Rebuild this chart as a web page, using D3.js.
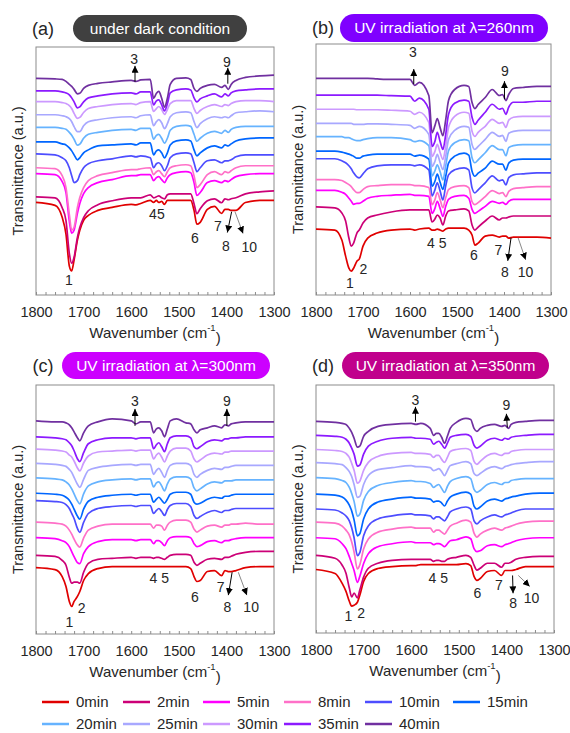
<!DOCTYPE html>
<html>
<head>
<meta charset="utf-8">
<script src="https://cdn.jsdelivr.net/npm/d3@7"></script>
<style>
  body { margin: 0; background: #fff; }
  text { font-family: "Liberation Sans", Arial, sans-serif; fill: #262626; }
</style>
</head>
<body>
<svg id="fig" width="570" height="733"></svg>
<script>
// sampling points of every trace (cm-1)
var wavenumbers = [1800, 1760, 1745, 1737, 1730, 1725, 1720, 1713, 1708, 1700,
                   1690, 1670, 1640, 1600, 1590, 1580, 1560, 1553, 1547, 1542,
                   1536, 1530, 1524, 1518, 1505, 1485, 1475, 1468, 1462, 1455,
                   1440, 1425, 1410, 1403, 1396, 1390, 1380, 1360, 1330, 1300];

var times = ["0min", "2min", "5min", "8min", "10min", "15min", "20min", "25min", "30min", "35min", "40min"];
var colors = ["#e00000", "#cc0077", "#ff00ff", "#ff70c8", "#4d4dff", "#0066ff",
              "#66b3ff", "#a8a8ff", "#cc99ff", "#8c1aff", "#7030a0"];

var xTicks = [1800, 1700, 1600, 1500, 1400, 1300];

// vertical offset of each trace (a.u.), 0min first
var offsetsA = [93.3, 99, 122.3, 128.3, 142.3, 154.3, 169, 181.7, 195, 205.7, 218.3];
var offsetsB = [65.7, 87.7, 104.3, 115, 135.7, 143.3, 157.7, 171, 185, 199, 215.7];
var offsetsC = [66.7, 79, 96.7, 112.3, 134, 141.3, 156.7, 171.3, 185.7, 198, 214];
var offsetsD = [64, 78.3, 96, 111.7, 125, 140, 156.7, 171.7, 185, 199.3, 213.3];

// drop of transmittance below each trace's baseline (a.u.)
var dipsA = [
  [0,3,15,32,64,69,58,38,28,18, 13,8,5,2,2.5,1,-2,0,-2,0, -1,2,-2,-2,-2,-2,-2,8,22,20, 7,4,11,7,7,8,8,0,-2,-2],
  [0,1,11,24,57,67,61,41,31,21, 14,8,4,1,1,1,-2,1,0,-1, 1,2,-2,-3,-3,-3,-3,7,17,12, 4,2,6,2,3,2,1,-3,-5,-6],
  [0,1,8,19,48,60,57,40,30,20, 14,9,6,2,2,1,1,7,4,3, 6,9,4,1,-1,-2,-1,9,22,19, 9,7,9,7,8,6,3,1,0,0],
  [0,1,8,20,47,63,60,40,30,20, 13,8,5,2,2,1,0,7,4,3, 6,9,4,0,-2,-3,-2,8,20,17, 7,4,7,4,5,3,0,-2,-2,-2],
  [0,1,4,7,14,22,29,27,21,14, 10,7,5,2,3,2,4,14,10,9, 12,17,12,4,0,-1,0,9,18,14, 7,6,9,7,7,6,3,1,1,1],
  [0,0,2,3,6,9,13,18,16,11, 8,4,3,2,3,1,1,13,9,8, 11,16,11,3,-1,-2,-1,8,14,11, 6,4,6,3,4,2,-1,-3,-4,-4],
  [0,0,1,2,5,8,12,18,17,11, 7,5,3,2,3,1,1,12,8,7, 11,16,11,3,-1,-2,-1,7,14,11, 6,4,6,3,5,2,0,-1,-1,-1],
  [0,0,1,2,4,7,12,17,17,11, 7,5,3,2,3,1,0,11,7,5, 8,14,9,2,-2,-3,-2,7,13,9, 4,2,3,2,3,1,-2,-3,-4,-3],
  [0,0,1,2,4,7,12,17,16,11, 7,5,3,2,3,1,0,10,7,5, 8,13,8,2,-1,-1,-1,7,12,9, 5,3,5,3,4,2,0,-1,-1,0],
  [0,0,1,2,4,7,11,17,16,11, 7,5,3,2,3,1,1,14,10,9, 14,20,13,2,-1,-2,-1,7,11,8, 5,3,6,3,5,2,0,-1,-2,-2],
  [0,0.5,1,3,6,8,11,15.5,15,10, 7,5,3.5,2,3,1.5,1,20,15,13, 20,29,20,6,0,-0.5,1,10,13,10, 7,6,9,7,11,6,2,-1,-2.5,-3.3]
];

var dipsB = [
  [0,1,11,27,39,42,39,32,30,17, 9,4,1,0,1,0,-1,1,1,0, 1,2,0,-1,-1,-1,1,6,16,14, 7,6,8,7,7,9,8,8,8,9],
  [0,1,6,14,31,39,36,26,23,16, 11,8,5,3,3,3,3,15,12,8, 11,18,9,4,3,2,4,18,23,20, 14,9,13,11,11,10,9,9,9,9],
  [0,0,2,4,8,11,14,13,13,11, 8,6,5,4,5,5,6,23,18,11, 18,26,16,9,6,5,8,19,23,21, 16,11,13,12,14,11,9,9,9,9],
  [0,0,1,3,5,7,10,13,13,10, 7,6,5,5,6,6,8,25,20,13, 20,28,18,10,7,6,8,22,25,23, 17,11,14,13,17,12,9,8,7,7],
  [0,0,2,4,7,10,14,18,19,15, 10,7,6,6,7,6,11,37,31,24, 32,41,27,16,11,9,11,29,34,31, 24,17,22,21,26,19,16,15,14,14],
  [0,0,1,2,3,4,5,7,7,5, 4,3,3,3,5,4,8,35,30,23, 31,38,25,12,5,2,4,20,25,22, 17,10,13,13,19,12,9,8,8,8],
  [0,0,0,1,1,2,3,4,4,3, 2,1,1,3,5,4,9,39,34,28, 35,43,29,14,6,3,4,21,26,23, 16,9,13,13,19,11,9,8,8,8],
  [0,0,0,0,0,0,1,1,1,1, 0.5,0.5,1,2,5,3,11,43,38,31, 39,46,33,16,7,3,4,21,26,23, 16,9,13,12,18,10,8,7,7,7],
  [0,0,0,0,0,0,0,0.5,0.5,0.5, 0.5,0.5,1,2,5,3,13,47,42,35, 43,50,37,18,7,3,4,22,27,23, 17,10,14,13,18,11,8,7,7,7],
  [0,0,0,0,0,0,0,0,0,0, 0,0,0.5,1,6,3,14,51,46,37, 46,54,39,19,8,5,6,22,29,25, 17,9,14,13,19,12,7,7,6,6],
  [0,0,0,0,0,0,0,0,0,0, 0,0.5,1,1,7,4,17,54,47,40, 49,57,41,22,11,7,8,24,30,26, 19,11,17,16,22,16,10,9,8,8]
];

var dipsC = [
  [0,2,9,19,34,39,34,29,24,13, 6,1,-1,-1,-1,-1,-1,-1,-1,-1, -1,-1,-1,-1,-1,-1,1,9,14,13, 4,3,8,3,4,4,3,0,-1,-1],
  [0,1,5,10,22,28,27,27,28,17, 8,4,3,2,3,2,2,3,2,2, 3,4,2,0,-1,-1,0,7,10,8, 4,3,4,2,2,1,-1,-3,-4,-4],
  [0,1,3,5,9,14,19,25,26,16, 9,4,2,2,3,2,2,6,3,3, 5,8,3,0,-1,-1,0,6,9,8, 4,3,5,3,3,2,1,0,0,0],
  [0,1,2,4,8,12,17,23,25,16, 8,4,2,2,2,2,2,6,3,3, 4,8,3,0,-2,-2,0,7,10,8, 4,3,5,3,3,2,2,1,2,2],
  [0,1,2,4,8,13,18,28,32,22, 13,8,6,5,6,5,5,13,10,8, 11,15,9,5,3,3,6,15,18,16, 12,10,12,10,10,9,8,8,8,8],
  [0,1,2,4,7,11,16,23,26,16, 8,4,2,1,2,1,1,9,6,4, 7,10,6,1,-1,-1,1,9,11,10, 6,4,5,3,3,2,1,1,1,1],
  [0,1,2,4,7,11,16,23,26,16, 8,4,2,1,2,1,1,9,5,4, 8,13,6,1,-1,-1,1,10,13,11, 6,4,5,3,3,3,2,2,2,2],
  [0,1,2,3,6,9,14,21,24,16, 7,4,2,1,2,1,1,11,7,5, 9,14,7,2,0,0,2,11,14,11, 7,5,6,4,4,3,2,2,2,2],
  [0,1,2,3,6,8,12,19,22,14, 7,3,2,1,2,1,1,10,6,4, 8,13,7,2,-1,-1,2,10,13,11, 6,4,5,3,3,2,2,2,2,2],
  [0,1,2,3,6,9,14,22,25,16, 7,3,1,1,2,1,1,12,8,6, 10,15,7,1,-1,-1,1,10,12,10, 5,3,4,2,2,1,1,0,0,0],
  [0,1,1,2,4,7,11,17,20,12, 5,1,-2,0,3,1,1,12,8,7, 10,16,8,0,-2,2,3,9,12,9, 7,5,7,4,5,3,2,1,1,1]
];

var dipsD = [
  [0,4,14,22,32,37,36,33,26,12, 4,-1,-3,-4,-4,-5,-5,-5,-5,-5, -5,-5,-5,-5,-5,-6,-4,7,11,9, 2,1,6,1,1,1,0,-3,-3,-3],
  [0,3,10,18,33,42,38,43,35,22, 13,8,5,4,4,4,4,6,5,5, 6,6,4,3,2,0,2,10,15,13, 8,8,12,8,8,7,4,2,1,1],
  [0,1,6,11,19,26,33,45,39,26, 16,9,6,4,5,5,5,7,6,6, 7,9,6,3,2,-1,1,11,14,13, 8,7,9,7,6,5,3,1,0,0],
  [0,1,4,8,13,20,30,47,43,27, 17,10,7,5,6,6,6,10,8,8, 10,12,8,4,1,-2,0,11,15,12, 8,6,8,6,5,4,2,0,-1,-1],
  [0,1,4,7,12,19,29,47,44,27, 17,10,7,5,6,6,7,10,8,8, 10,12,8,3,0,-2,0,12,15,12, 8,6,8,6,5,4,2,0,0,0],
  [0,1,3,6,11,17,26,42,40,25, 15,8,5,3,4,4,5,8,7,7, 9,12,7,3,0,-2,0,12,15,13, 7,5,7,5,4,3,2,0,-1,-1],
  [0,1,3,5,10,16,24,39,37,23, 14,8,5,3,4,4,6,10,8,7, 11,15,9,4,1,-1,1,12,15,13, 7,5,7,5,5,3,2,1,1,1],
  [0,1,2,5,9,14,22,35,34,22, 13,7,5,3,4,4,5,8,7,6, 9,13,8,3,1,-1,1,11,13,11, 6,4,6,4,3,2,1,0,-1,-1],
  [0,1,2,4,8,14,21,34,32,21, 13,7,4,3,4,4,5,8,6,6, 10,13,8,2,0,-1,1,12,15,12, 6,4,6,4,4,2,1,0,0,0],
  [0,1,2,4,8,13,19,31,30,19, 11,6,3,2,3,3,4,9,7,6, 9,13,8,2,0,-1,1,10,13,11, 5,3,5,3,4,2,1,0,-1,-1],
  [0,1,2,3,7,11,17,26,25,15, 10,5,3,2,3,2,7,14,12,12, 16,22,15,7,1,-3,-2,7,10,7, 4,3,5,4,7,3,1,0,-1,-1]
];

// peak numbers: [text, wavenumber, a.u.]
var peaksA = [["1",1731,15],["3",1594,238],["9",1399,235],["45",1546,82],["6",1466,57],["7",1418,69],["8",1401,49],["10",1352,48]];
var peaksB = [["1",1728,12],["2",1699,26],["3",1594,242],["9",1398,223],["4 5",1543,52],["6",1464,40],["7",1412,45],["8",1398,23],["10",1354,23]];
var peaksC = [["1",1730,12],["2",1704,26],["3",1592,234],["9",1399,234],["4 5",1541,56],["6",1466,37],["7",1412,47],["8",1398,27],["10",1348,27]];
var peaksD = [["1",1732,17],["2",1705,20],["3",1591,235],["9",1400,230],["4 5",1543,55],["6",1461,40],["7",1416,48],["8",1386,30],["10",1347,35]];

// arrows: [wn from, a.u. from, wn to, a.u. to, line colour]
var arrowsA = [[1592,215,1592,231,"#000"],[1397,213,1397,229,"#000"],[1389,84,1398,63,"#000"],[1382,84,1365,62,"#888"]];
var arrowsB = [[1592,210,1592,225,"#000"],[1399,195,1399,213,"#000"],[1385,57,1392,34,"#000"],[1370,57,1354,35,"#888"]];
var arrowsC = [[1592,209,1592,226,"#000"],[1399,209,1399,226,"#000"],[1388,62,1396,39,"#000"],[1375,62,1357,39,"#888"]];
var arrowsD = [[1591,213,1591,228,"#000"],[1398,207,1400,221,"#000"],[1387,58,1386,40,"#000"],[1375,58,1351,47,"#888"]];

var panels = [
  {tag: "(a)", title: "under dark condition", fill: "#404040", left: 36, top: 47, w: 238, h: 248,
   badge: [73, 15, 174, 27], offsets: offsetsA, dips: dipsA, peaks: peaksA, arrows: arrowsA},
  {tag: "(b)", title: "UV irradiation at \u03bb=260nm", fill: "#7f00ff", left: 316, top: 44, w: 235, h: 251,
   badge: [340, 14, 208, 28], offsets: offsetsB, dips: dipsB, peaks: peaksB, arrows: arrowsB},
  {tag: "(c)", title: "UV irradiation at \u03bb=300nm", fill: "#cc00ff", left: 36, top: 385, w: 238, h: 249,
   badge: [62, 352, 208, 27], offsets: offsetsC, dips: dipsC, peaks: peaksC, arrows: arrowsC},
  {tag: "(d)", title: "UV irradiation at \u03bb=350nm", fill: "#c0008c", left: 316, top: 385, w: 238, h: 248,
   badge: [342, 352, 207, 27], offsets: offsetsD, dips: dipsD, peaks: peaksD, arrows: arrowsD}
];

var svg = d3.select("#fig");

svg.append("defs").append("marker")
    .attr("id", "head")
    .attr("viewBox", "0 0 10 10")
    .attr("refX", 10).attr("refY", 5)
    .attr("markerWidth", 7).attr("markerHeight", 7)
    .attr("markerUnits", "userSpaceOnUse")
    .attr("orient", "auto")
  .append("path")
    .attr("d", "M0,0 L10,5 L0,10 Z")
    .attr("fill", "#000");

panels.forEach(function(p) {
  var x = d3.scaleLinear().domain([1800, 1300]).range([p.left, p.left + p.w]);
  var y = d3.scaleLinear().domain([0, 250]).range([p.top + p.h, p.top]);

  var line = d3.line()
      .curve(d3.curveMonotoneX)
      .x(function(d) { return x(d[0]); })
      .y(function(d) { return y(d[1]); });

  var g = svg.append("g");

  // title badge
  g.append("text")
      .attr("x", p.left + 7).attr("y", p.badge[1] + p.badge[3] / 2)
      .attr("dy", "0.35em")
      .attr("text-anchor", "middle")
      .style("font-size", "18px")
      .text(p.tag);
  g.append("rect")
      .attr("x", p.badge[0]).attr("y", p.badge[1])
      .attr("width", p.badge[2]).attr("height", p.badge[3])
      .attr("rx", p.badge[3] / 2)
      .attr("fill", p.fill);
  g.append("text")
      .attr("x", p.badge[0] + p.badge[2] / 2).attr("y", p.badge[1] + p.badge[3] / 2)
      .attr("dy", "0.35em")
      .attr("text-anchor", "middle")
      .style("font-size", "15.5px")
      .style("fill", "#fff")
      .text(p.title);

  // frame
  g.append("rect")
      .attr("x", p.left).attr("y", p.top)
      .attr("width", p.w).attr("height", p.h)
      .attr("fill", "none")
      .attr("stroke", "#8c8c8c");

  // traces
  p.dips.forEach(function(dip, i) {
    var pts = wavenumbers.map(function(w, k) { return [w, p.offsets[i] - dip[k]]; });
    g.append("path")
        .attr("d", line(pts))
        .attr("fill", "none")
        .attr("stroke", colors[i])
        .attr("stroke-width", 1.7)
        .attr("stroke-linejoin", "round");
  });

  // x axis
  var axis = g.append("g")
      .attr("transform", "translate(0," + (p.top + p.h) + ")")
      .call(d3.axisBottom(x)
        .tickValues(d3.range(1800, 1299, -20))
        .tickSize(-3)
        .tickPadding(12)
        .tickFormat(function(d) { return xTicks.indexOf(d) >= 0 ? d : ""; }));
  axis.select(".domain").remove();
  axis.selectAll(".tick line").attr("stroke", "#8c8c8c");
  axis.selectAll(".tick text")
      .style("font-size", "14.5px")
      .style("font-family", "'Liberation Sans', Arial, sans-serif")
      .attr("fill", "#262626");

  var xt = g.append("text")
      .attr("x", p.left + p.w / 2).attr("y", p.top + p.h + 38)
      .attr("dy", "0.35em")
      .attr("text-anchor", "middle")
      .style("font-size", "15px");
  xt.append("tspan").text("Wavenumber (cm");
  xt.append("tspan").text("-1").attr("dy", "-0.8em").style("font-size", "9.5px");
  xt.append("tspan").text(")").attr("dy", "0.8em").style("font-size", "15px");

  g.append("text")
      .attr("transform", "translate(" + (p.left - 18) + "," + (p.top + p.h / 2) + ") rotate(-90)")
      .attr("dy", "0.35em")
      .attr("text-anchor", "middle")
      .style("font-size", "14.5px")
      .text("Transmittance (a.u.)");

  // peak arrows and numbers
  p.arrows.forEach(function(a) {
    g.append("line")
        .attr("x1", x(a[0])).attr("y1", y(a[1]))
        .attr("x2", x(a[2])).attr("y2", y(a[3]))
        .attr("stroke", a[4])
        .attr("stroke-width", 1)
        .attr("marker-end", "url(#head)");
  });
  p.peaks.forEach(function(k) {
    g.append("text")
        .attr("x", x(k[1])).attr("y", y(k[2]))
        .attr("dy", "0.35em")
        .attr("text-anchor", "middle")
        .style("font-size", "14px")
        .text(k[0]);
  });
});

// legend, six columns
var legendCols = [42, 123, 203, 284, 365, 453];
times.forEach(function(t, i) {
  var cx = legendCols[i % 6];
  var cy = i < 6 ? 702 : 724;
  svg.append("line")
      .attr("x1", cx).attr("x2", cx + 27)
      .attr("y1", cy).attr("y2", cy)
      .attr("stroke", colors[i])
      .attr("stroke-width", 2.5);
  svg.append("text")
      .attr("x", cx + 34).attr("y", cy)
      .attr("dy", "0.35em")
      .style("font-size", "15px")
      .text(t);
});
</script>
</body>
</html>
